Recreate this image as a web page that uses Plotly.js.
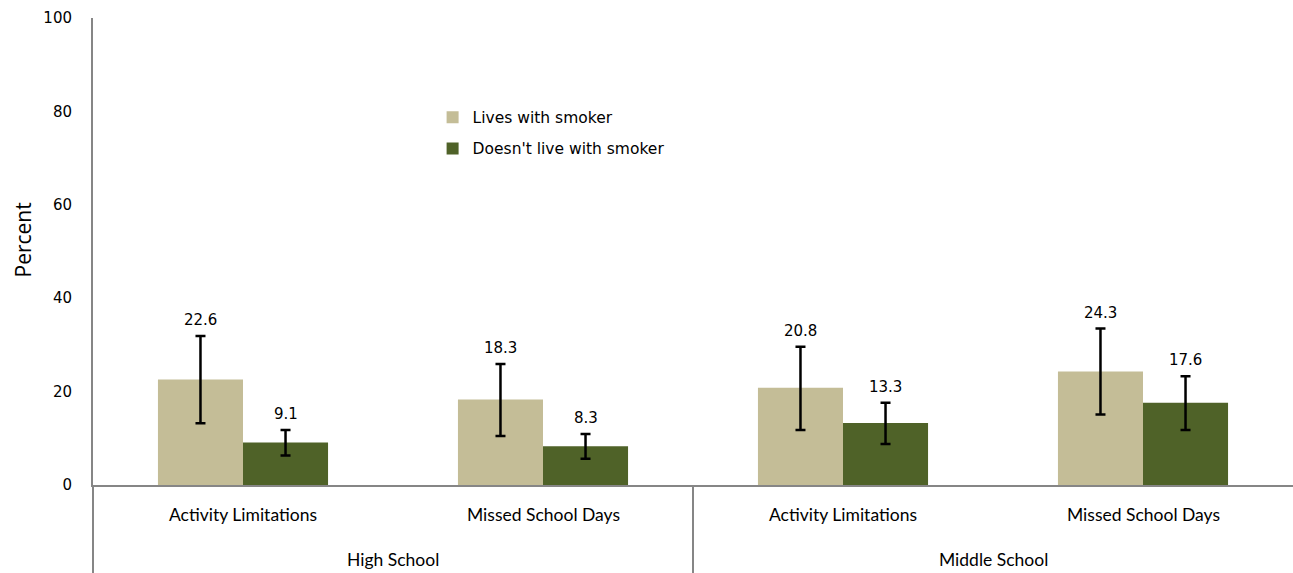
<!DOCTYPE html>
<html>
<head>
<meta charset="utf-8">
<script src="https://cdn.plot.ly/plotly-3.0.1.min.js"></script>
<style>html,body{margin:0;padding:0;background:#fff;}#chart{width:1293px;height:573px;}</style>
</head>
<body>
<div id="chart"></div>
<script>
const schools = ["High School", "High School", "Middle School", "Middle School"];
const measures = ["Activity Limitations", "Missed School Days", "Activity Limitations", "Missed School Days"];
const livesWith = [22.6, 18.3, 20.8, 24.3];
const livesWithUpper = [31.9, 25.9, 29.6, 33.5];
const livesWithLower = [13.2, 10.5, 11.8, 15.1];
const notLiving = [9.1, 8.3, 13.3, 17.6];
const notLivingUpper = [11.8, 10.9, 17.6, 23.3];
const notLivingLower = [6.3, 5.6, 8.8, 11.8];
const seriesNames = ["Lives with smoker", "Doesn't live with smoker"];
const yTicks = [0, 20, 40, 60, 80, 100];

const colors = ["#C4BD97", "#4F6228"];
const axisGray = "#868686";
const bargap = 0.433;
const catPx = 300;
const barPx = catPx * (1 - bargap) / 2;
const plotH = 573 - 18 - 88;

function mk(name, vals, up, lo, color, grp) {
  return {
    type: "bar", name: name, x: [schools, measures], y: vals,
    marker: {color: color, line: {width: 0}},
    legendgroup: grp,
    error_y: {type: "data", symmetric: false,
      array: vals.map((v, i) => up[i] - v),
      arrayminus: vals.map((v, i) => v - lo[i]),
      color: "#000", thickness: 2.5, width: 5},
    hoverinfo: "skip"
  };
}
const data = [
  mk(seriesNames[0], livesWith, livesWithUpper, livesWithLower, colors[0], "a"),
  mk(seriesNames[1], notLiving, notLivingUpper, notLivingLower, colors[1], "b")
];

const annotations = [];
// value labels above the error bars
[[livesWith, livesWithUpper, -1], [notLiving, notLivingUpper, 1]].forEach(([vals, up, s]) => {
  vals.forEach((v, i) => {
    annotations.push({x: i, y: up[i], xref: "x", yref: "y", text: v.toFixed(1),
      showarrow: false, yanchor: "bottom", xshift: s * barPx / 2, yshift: 5,
      font: {family: "DejaVu Sans", size: 15, color: "#000"}});
  });
});
// category labels (first row)
const catFont = {family: "Lato, Open Sans", size: 17.5, color: "#000"};
measures.forEach((m, i) => {
  annotations.push({x: i, y: 0, xref: "x", yref: "paper", text: m, showarrow: false,
    yanchor: "middle", yshift: -29, font: catFont});
});
// group labels (second row) and group dividers
const groups = [...new Set(schools)];
const shapes = [{type: "line", xref: "paper", yref: "paper", x0: 0, x1: 0, y0: 0, y1: -88 / plotH,
  line: {color: axisGray, width: 2}}];
groups.forEach((g, gi) => {
  const idx = schools.map((s, i) => s === g ? i : -1).filter(i => i >= 0);
  const center = (idx[0] + idx[idx.length - 1]) / 2;
  annotations.push({x: center, y: 0, xref: "x", yref: "paper", text: g, showarrow: false,
    yanchor: "middle", yshift: -74, font: catFont});
  if (gi > 0) {
    shapes.push({type: "line", xref: "x", yref: "paper", x0: idx[0] - 0.5, x1: idx[0] - 0.5,
      y0: 0, y1: -88 / plotH, line: {color: axisGray, width: 2}});
  }
});
// y-axis title
annotations.push({x: 0, y: 0.5, xref: "paper", yref: "paper", text: "Percent", textangle: -90,
  showarrow: false, xanchor: "center", yanchor: "middle", xshift: -71, yshift: 11,
  font: {family: "Open Sans", size: 21, color: "#000"}});

const layout = {
  width: 1293, height: 573,
  margin: {l: 93, r: 0, t: 18, b: 88},
  paper_bgcolor: "#fff", plot_bgcolor: "#fff",
  barmode: "group", bargap: bargap, bargroupgap: 0,
  showlegend: true,
  legend: {x: 0.283, y: 0.823, xanchor: "left", yanchor: "top",
    font: {family: "DejaVu Sans", size: 15.5, color: "#000"},
    traceorder: "grouped", tracegroupgap: 8, bgcolor: "rgba(0,0,0,0)"},
  xaxis: {type: "multicategory", showline: true, linecolor: axisGray, linewidth: 2,
    showgrid: false, zeroline: false, ticks: "", showticklabels: false, showdividers: false},
  yaxis: {range: [0, 100], tickvals: yTicks, showline: true,
    linecolor: axisGray, linewidth: 2, showgrid: false, zeroline: false, ticks: "",
    ticklabelstandoff: 16,
    tickfont: {family: "DejaVu Sans", size: 15, color: "#000"}},
  annotations: annotations,
  shapes: shapes
};
Plotly.newPlot("chart", data, layout, {displayModeBar: false, staticPlot: true});
</script>
</body>
</html>
